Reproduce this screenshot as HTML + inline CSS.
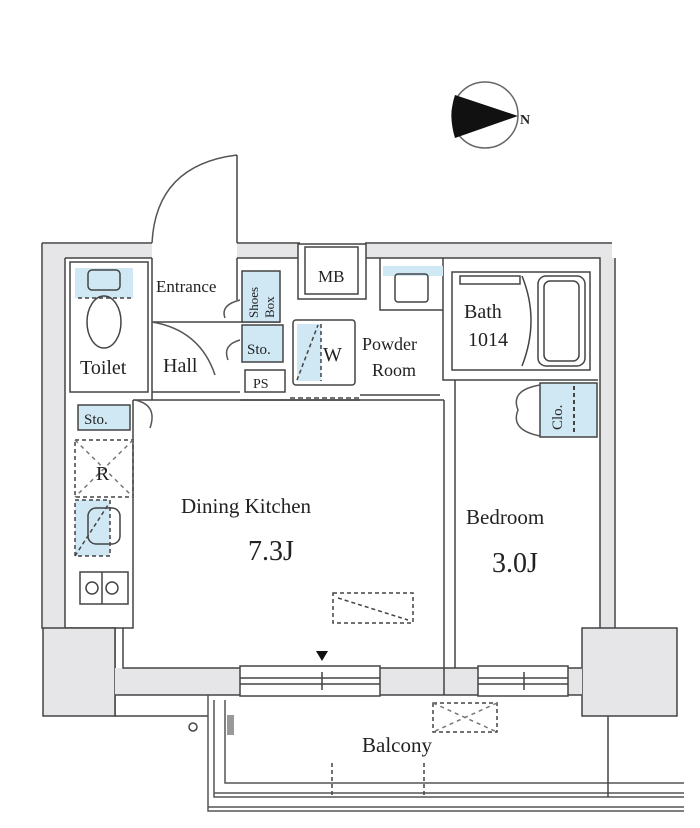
<!DOCTYPE html>
<html><head><meta charset="utf-8"><style>
html,body{margin:0;padding:0;background:#fff}
svg{display:block}
text{font-family:"Liberation Serif",serif;fill:#222}
</style></head><body>
<svg width="700" height="828" viewBox="0 0 700 828" xmlns="http://www.w3.org/2000/svg">
<g stroke="#444" stroke-width="1.5" fill="none">
<!-- compass -->
<circle cx="485" cy="115" r="33" stroke="#666"/>
<path d="M455 95 Q448 116 455 138 L518 116 Z" fill="#111" stroke="none"/>
<!-- entrance door -->
<path d="M152 243 Q156 165 237 155" stroke="#555"/>
<line x1="237" y1="155" x2="237" y2="243"/>
<!-- outer wall grey bands -->
<path d="M42 243 H152 M237 243 H300 M365 243 H612" />
<path d="M42 243 V628 H115 V716 H208" />
<rect x="43" y="244" width="22" height="384" fill="#e6e6e9" stroke="none"/>
<rect x="65" y="244" width="87" height="14" fill="#e6e6e9" stroke="none"/>
<rect x="237" y="244" width="61" height="14" fill="#e6e6e9" stroke="none"/>
<rect x="366" y="244" width="246" height="14" fill="#e6e6e9" stroke="none"/>
<rect x="600" y="258" width="14" height="370" fill="#e6e6e9" stroke="none"/>
<path d="M65 258 V628 M65 258 H152 M237 258 H298 M366 258 H600 V628 M615 258 V628" />
<!-- MB -->
<rect x="298" y="244" width="68" height="55" fill="#fff"/>
<rect x="305" y="247" width="53" height="47"/>
<!-- bottom grey blocks -->
<rect x="43" y="628" width="72" height="88" fill="#e6e6e9" stroke="#444"/>
<rect x="582" y="628" width="95" height="88" fill="#e6e6e9" stroke="#444"/>
<rect x="115" y="668" width="467" height="27" fill="#e6e6e9" stroke="none"/>
<path d="M115 628 H123 V668 H240 M380 668 H478 M568 668 H582" />
<path d="M115 695 H240 M380 695 H478 M568 695 H582" />
<!-- windows -->
<rect x="240" y="666" width="140" height="30" fill="#fff"/>
<line x1="240" y1="678" x2="380" y2="678"/><line x1="240" y1="684" x2="380" y2="684"/>
<line x1="322" y1="672" x2="322" y2="690"/>
<rect x="478" y="666" width="90" height="30" fill="#fff"/>
<line x1="478" y1="678" x2="568" y2="678"/><line x1="478" y1="684" x2="568" y2="684"/>
<line x1="524" y1="672" x2="524" y2="690"/>
<!-- kitchen & bedroom inner -->
<path d="M133 400 V628 H123 M133 400 H444 M455 380 H598 M444 400 V668 M455 380 V668 M444 668 V695" />
<!-- toilet -->
<rect x="70" y="262" width="78" height="130"/>
<rect x="75" y="268" width="58" height="30" fill="#cfe8f4" stroke="none"/>
<rect x="88" y="270" width="32" height="20" rx="4"/>
<path d="M78 298 H133" stroke-dasharray="4 3"/>
<ellipse cx="104" cy="322" rx="17" ry="26"/>
<!-- hall/entrance lines -->
<path d="M152 258 V400 M237 258 V300 M152 322 H280 M152 392 H240 M240 400 H360"/>
<path d="M152 322 Q200 330 215 375" stroke="#555"/>
<!-- shoes/sto -->
<rect x="242" y="271" width="38" height="51" fill="#cfe8f4"/>
<rect x="242" y="325" width="41" height="37" fill="#cfe8f4"/>
<rect x="245" y="370" width="40" height="22"/>
<path d="M240 300 Q220 305 225 318 M240 340 Q222 345 228 360" stroke="#555"/>
<!-- W -->
<rect x="293" y="320" width="62" height="65" rx="3"/>
<rect x="297" y="324" width="24" height="57" fill="#cfe8f4" stroke="none"/>
<path d="M297 380 L318 325 M321 324 V381" stroke-dasharray="4 3"/>
<path d="M290 398 H360" stroke-dasharray="5 3"/>
<!-- powder room -->
<path d="M380 258 V310 H443 V258 M360 395 H440 M443 310 V380 H455"/>
<rect x="383" y="266" width="60" height="10" fill="#cfe8f4" stroke="none"/>
<rect x="395" y="274" width="33" height="28" rx="3"/>
<!-- bath -->
<rect x="452" y="272" width="138" height="98"/>
<rect x="538" y="276" width="47" height="90" rx="8"/>
<rect x="544" y="281" width="35" height="80" rx="6"/>
<path d="M522 276 Q540 320 522 366"/>
<rect x="460" y="276" width="60" height="8"/>
<!-- clo -->
<rect x="540" y="383" width="57" height="54" fill="#cfe8f4"/>
<path d="M574 386 V434" stroke-dasharray="4 3" stroke-width="2"/>
<path d="M540 385 Q510 390 518 410 Q510 430 540 436" stroke="#555"/>
<!-- left kitchen -->
<rect x="78" y="405" width="52" height="25" fill="#cfe8f4"/>
<path d="M135 400 Q158 405 150 428" stroke="#555"/>
<rect x="75" y="440" width="58" height="57" stroke-dasharray="4 3"/>
<path d="M75 440 L133 497 M133 440 L75 497" stroke-dasharray="4 4" stroke="#777"/>
<rect x="75" y="500" width="35" height="56" fill="#cfe8f4" stroke-dasharray="4 3"/>
<rect x="88" y="508" width="32" height="36" rx="8"/>
<path d="M75 556 L108 505" stroke-dasharray="4 3"/>
<rect x="80" y="572" width="48" height="32"/>
<circle cx="92" cy="588" r="6"/><circle cx="112" cy="588" r="6"/>
<line x1="102" y1="572" x2="102" y2="604"/>
<!-- kitchen dashed -->
<rect x="333" y="593" width="80" height="30" stroke-dasharray="4 3"/>
<path d="M338 598 L408 620" stroke-dasharray="4 3"/>
<!-- balcony -->
<rect x="433" y="703" width="64" height="29" stroke-dasharray="4 3"/>
<path d="M433 703 L497 732 M497 703 L433 732" stroke-dasharray="4 4" stroke="#777"/>
<path d="M208 695 V811 H684 M214 700 V797 H684 M225 700 V783 H684" stroke="#555"/>
<path d="M208 807 H684 M214 793 H684" stroke="#555"/>
<path d="M332 763 V797 M424 763 V797" stroke-dasharray="4 3"/>
<line x1="608" y1="716" x2="608" y2="797"/>
<rect x="227" y="715" width="7" height="20" fill="#999" stroke="none"/>
<circle cx="193" cy="727" r="4"/>
</g>
<path d="M316 651 H328 L322 661 Z" fill="#111"/>
<text x="520" y="124" font-size="14" font-weight="bold" font-family="Liberation Sans">N</text>
<text x="156" y="292" font-size="17">Entrance</text>
<text x="318" y="282" font-size="17">MB</text>
<text x="80" y="374" font-size="20">Toilet</text>
<text x="163" y="372" font-size="20">Hall</text>
<text x="247" y="354" font-size="15">Sto.</text>
<text x="253" y="388" font-size="14">PS</text>
<text x="323" y="361" font-size="20">W</text>
<text x="362" y="350" font-size="18">Powder</text>
<text x="372" y="376" font-size="18">Room</text>
<text x="464" y="318" font-size="20">Bath</text>
<text x="468" y="346" font-size="20">1014</text>
<text x="84" y="424" font-size="15">Sto.</text>
<text x="96" y="480" font-size="20">R</text>
<text x="181" y="513" font-size="21">Dining Kitchen</text>
<text x="248" y="560" font-size="28">7.3J</text>
<text x="466" y="524" font-size="21">Bedroom</text>
<text x="492" y="572" font-size="28">3.0J</text>
<text x="362" y="752" font-size="21">Balcony</text>
<text transform="translate(258,318) rotate(-90)" font-size="13">Shoes</text>
<text transform="translate(274,318) rotate(-90)" font-size="13">Box</text>
<text transform="translate(562,430) rotate(-90)" font-size="15">Clo.</text>
</svg>
</body></html>
